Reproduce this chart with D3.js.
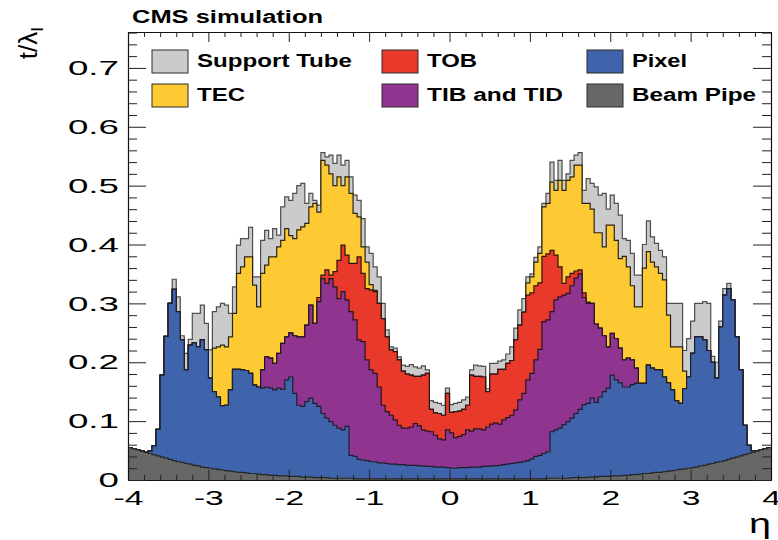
<!DOCTYPE html>
<html>
<head>
<meta charset="utf-8">
<script src="https://cdn.jsdelivr.net/npm/d3@7"></script>
<style>
  html, body { margin: 0; padding: 0; background: #ffffff; }
  svg { display: block; }
  text { font-family: "Liberation Sans", Arial, Helvetica, sans-serif; fill: #000; }
</style>
</head>
<body>
<svg id="chart" width="778" height="540"></svg>
<script>
// Material budget in nuclear interaction lengths versus pseudorapidity,
// stacked by tracker sub-detector. 160 bins of width 0.05 from -4 to 4.
const etaMin = -4, etaMax = 4, binWidth = 0.05;

const beamPipe = [
  .055,.053,.051,.049,.047,.045,.043,.041,.039,.037,
  .035,.033,.031,.030,.028,.027,.025,.024,.022,.021,
  .020,.019,.018,.017,.016,.015,.014,.013,.013,.012,
  .011,.011,.010,.009,.009,.008,.008,.007,.007,.007,
  .006,.006,.006,.005,.005,.005,.004,.004,.004,.004,
  .003,.003,.003,.003,.003,.003,.002,.002,.002,.002,
  .002,.002,.002,.002,.002,.002,.002,.002,.002,.002,
  .002,.002,.002,.002,.002,.002,.002,.002,.002,.002,
  .002,.002,.002,.002,.002,.002,.002,.002,.002,.002,
  .002,.002,.002,.002,.002,.002,.002,.002,.002,.002,
  .002,.002,.002,.002,.003,.003,.003,.003,.003,.003,
  .004,.004,.004,.004,.005,.005,.005,.006,.006,.006,
  .007,.007,.007,.008,.008,.009,.009,.010,.011,.011,
  .012,.013,.013,.014,.015,.016,.017,.018,.019,.020,
  .021,.022,.024,.025,.027,.028,.030,.031,.033,.035,
  .037,.039,.041,.043,.045,.047,.049,.051,.053,.055
];

const pixel = [
  0,0,0,0,0,.004,.015,.045,.139,.207,
  .265,.291,.255,.208,.159,.202,.208,.202,.216,.200,
  .153,.131,.123,.109,.111,.138,.174,.175,.174,.174,
  .170,.150,.148,.147,.149,.148,.145,.149,.147,.163,
  .169,.141,.121,.120,.128,.134,.126,.121,.109,.101,
  .096,.090,.085,.082,.088,.039,.038,.033,.032,.031,
  .029,.029,.027,.027,.026,.025,.025,.024,.024,.023,
  .023,.023,.022,.022,.021,.021,.020,.020,.020,.019,
  .018,.018,.019,.019,.019,.020,.020,.020,.021,.021,
  .022,.022,.023,.024,.025,.026,.027,.028,.029,.031,
  .034,.038,.040,.043,.045,.079,.082,.085,.091,.096,
  .101,.109,.116,.124,.125,.134,.127,.135,.144,.150,
  .171,.163,.158,.150,.150,.153,.155,.154,.153,.184,
  .178,.174,.174,.161,.150,.137,.118,.112,.136,.155,
  .194,.221,.219,.213,.193,.172,.143,.229,.281,.290,
  .269,.204,.146,.050,.014,.003,0,0,0,0
];

const tibTid = [
  0,0,0,0,0,0,0,0,0,0,
  0,0,0,0,0,0,0,0,0,0,
  0,0,0,0,0,0,0,0,0,0,
  0,0,0,.031,.051,.051,.045,.059,.078,.073,
  .075,.098,.116,.118,.130,.158,.136,.178,.229,.229,
  .243,.235,.220,.235,.215,.244,.232,.203,.201,.171,
  .156,.150,.129,.098,.088,.083,.075,.067,.062,.063,
  .065,.071,.068,.061,.060,.059,.054,.048,.046,.064,
  .060,.052,.053,.056,.064,.061,.065,.065,.062,.067,
  .071,.073,.070,.076,.079,.082,.090,.106,.116,.137,
  .145,.164,.180,.224,.224,.204,.221,.223,.220,.218,
  .225,.230,.230,.182,.170,.161,.133,.117,.095,.070,
  .071,.070,.059,.046,.049,.042,.026,0,0,0,
  0,0,0,0,0,0,0,0,0,0,
  0,0,0,0,0,0,0,0,0,0,
  0,0,0,0,0,0,0,0,0,0
];

const tob = [
  0,0,0,0,0,0,0,0,0,0,
  0,0,0,0,0,0,0,0,0,0,
  0,0,0,0,0,0,0,0,0,0,
  0,0,0,0,0,0,0,0,0,0,
  0,0,0,0,0,0,0,.007,.006,.023,
  .006,.026,.065,.079,.076,.082,.096,.141,.116,.121,
  .136,.139,.142,.147,.127,.111,.116,.111,.097,.092,
  .088,.080,.084,.093,.098,.038,.038,.043,.042,.062,
  .035,.044,.043,.043,.042,.095,.089,.089,.090,.060,
  .085,.083,.093,.086,.092,.093,.119,.127,.138,.144,
  .137,.126,.113,.111,.112,.104,.076,.051,.020,.028,
  .021,.012,.007,.008,.002,0,0,0,0,0,
  0,0,0,0,0,0,0,0,0,0,
  0,0,0,0,0,0,0,0,0,0,
  0,0,0,0,0,0,0,0,0,0,
  0,0,0,0,0,0,0,0,0,0
];

const tec = [
  0,0,0,0,0,0,0,0,0,0,
  0,0,0,0,0,0,0,0,0,0,
  0,.074,.085,.103,.099,.090,.095,.163,.175,.193,
  .198,.170,.136,.164,.156,.172,.181,.181,.175,.184,
  .165,.165,.182,.187,.173,.167,.204,.145,.195,.178,
  .172,.146,.142,.101,.133,.119,.085,.068,.045,.045,
  .009,.002,0,0,0,0,0,0,0,0,
  0,0,0,0,0,0,0,0,0,0,
  0,0,0,0,0,0,0,0,0,0,
  0,0,0,0,0,0,0,0,0,.021,
  .027,.040,.050,.084,.086,.116,.110,.147,.158,.164,
  .164,.180,.178,.152,.168,.160,.155,.162,.151,.207,
  .184,.167,.152,.176,.155,.126,.104,.130,.196,.193,
  .180,.175,.164,.165,.115,.073,.091,.096,.030,0,
  0,0,0,0,0,0,0,0,0,0,
  0,0,0,0,0,0,0,0,0,0
];

const supportTube = [
  0,0,0,0,0,0,0,0,0,0,
  0,.017,.025,.007,.028,.010,.050,.057,.059,.045,
  .048,.062,.068,.071,.071,.040,.045,.048,.048,.031,
  .050,.014,.051,.056,.059,.031,.048,.020,.057,.054,
  .060,.077,.075,.074,.034,.023,.005,.012,.013,.014,
  .032,.038,.037,.035,.028,.028,.031,.028,.048,.026,
  .053,.040,.045,.026,.012,.005,.006,.005,.010,.013,
  .018,.016,.014,.016,.006,.015,.018,.017,.017,.009,
  .013,.014,.015,.016,.014,.009,.019,.018,.018,.005,
  .018,.018,.014,.016,.016,.023,.020,.026,.023,.010,
  .005,.008,.011,.006,.017,.034,.017,.034,.017,.011,
  .028,.017,.021,.022,.042,.044,.078,.064,.091,.027,
  .051,.063,.074,.030,.045,.055,.054,.054,.040,.052,
  .043,.040,.039,.039,.020,.074,.074,.074,.035,.065,
  .055,.057,.057,.065,.080,.010,.027,.010,.011,.009,
  0,0,0,0,0,0,0,0,0,0
];

// Stack order (bottom to top), legend text and colours
const layerKeys   = ["beamPipe", "pixel", "tibTid", "tob", "tec", "supportTube"];
const layerLabels = ["Beam Pipe", "Pixel", "TIB and TID", "TOB", "TEC", "Support Tube"];
const layerColors = ["#676866", "#3f64ab", "#8f3590", "#e8392b", "#fdca33", "#cbcbcb"];
const layerLines  = ["#262626", "#1c1f2c", "#241424", "#2a1512", "#2a2410", "#4d4d4d"];

// Legend layout: three columns of two rows
const legendOrder = ["supportTube", "tec", "tob", "tibTid", "pixel", "beamPipe"];

const xMajorTicks = [-4, -3, -2, -1, 0, 1, 2, 3, 4];
const yMajorTicks = [0, 0.1, 0.2, 0.3, 0.4, 0.5, 0.6, 0.7];
const yMax = 0.761;

const svg = d3.select("#chart");
const plotLeft = 128, plotRight = 771, plotTop = 32, plotBottom = 480;

const x = d3.scaleLinear().domain([etaMin, etaMax]).range([plotLeft, plotRight]);
const y = d3.scaleLinear().domain([0, yMax]).range([plotBottom, plotTop]);

const seriesByKey = { beamPipe, pixel, tibTid, tob, tec, supportTube };
const nBins = beamPipe.length;
const rows = d3.range(nBins).map(i => {
  const r = {};
  layerKeys.forEach(k => { r[k] = seriesByKey[k][i]; });
  return r;
});
const stacked = d3.stack().keys(layerKeys)(rows);

svg.append("clipPath").attr("id", "plotArea")
  .append("rect")
  .attr("x", plotLeft).attr("y", plotTop)
  .attr("width", plotRight - plotLeft).attr("height", plotBottom - plotTop);

const plot = svg.append("g").attr("clip-path", "url(#plotArea)");

// Step outline of a cumulative series
const stepPoints = s => s.flatMap((d, i) => {
  const lo = etaMin + i * binWidth;
  return [{ e: lo, v: d[1] }, { e: lo + binWidth, v: d[1] }];
});
const area = d3.area().x(p => x(p.e)).y0(y(0)).y1(p => y(p.v));
const line = d3.line().x(p => x(p.e)).y(p => y(p.v));

// Cumulative histograms drawn from the total downwards, each filled and outlined
stacked.slice().reverse().forEach(s => {
  const idx = layerKeys.indexOf(s.key);
  const pts = stepPoints(s);
  plot.append("path")
    .attr("d", area(pts))
    .attr("fill", layerColors[idx]);
  plot.append("path")
    .attr("d", line(pts))
    .attr("fill", "none")
    .attr("stroke", layerLines[idx])
    .attr("stroke-width", 1.2)
    .attr("stroke-linejoin", "miter");
});

// Axes with ROOT-style inward ticks on all four sides
const xMinorTicks = d3.range(-40, 41, 2).map(v => v / 10).filter(v => !Number.isInteger(v));
const yMinorTicks = d3.range(0, 77, 2).map(v => v / 100).filter(v => Math.round(v * 100) % 10 !== 0);

const xLabelStretch = 1.6, yLabelStretch = 1.75;
function styleAxis(g) {
  g.select(".domain").attr("stroke", "#111").attr("stroke-width", 1.1);
  g.selectAll(".tick line").attr("stroke", "#222").attr("stroke-width", 1);
}

const fmt = d => String(d);

// bottom
const gBottom = svg.append("g").attr("transform", `translate(0,${plotBottom})`)
  .call(d3.axisBottom(x).tickValues(xMajorTicks).tickSize(-10).tickSizeOuter(0).tickPadding(10).tickFormat(fmt));
gBottom.selectAll(".tick text")
  .attr("font-size", 21)
  .attr("font-family", "Liberation Sans, Arial, sans-serif")
  .attr("transform", `scale(${xLabelStretch},1)`);
styleAxis(gBottom);
const gBottomMinor = svg.append("g").attr("transform", `translate(0,${plotBottom})`)
  .call(d3.axisBottom(x).tickValues(xMinorTicks).tickSize(-5).tickSizeOuter(0).tickFormat(""));
styleAxis(gBottomMinor);

// top
const gTop = svg.append("g").attr("transform", `translate(0,${plotTop})`)
  .call(d3.axisTop(x).tickValues(xMajorTicks).tickSize(-10).tickSizeOuter(0).tickFormat(""));
styleAxis(gTop);
const gTopMinor = svg.append("g").attr("transform", `translate(0,${plotTop})`)
  .call(d3.axisTop(x).tickValues(xMinorTicks).tickSize(-5).tickSizeOuter(0).tickFormat(""));
styleAxis(gTopMinor);

// left
const gLeft = svg.append("g").attr("transform", `translate(${plotLeft},0)`)
  .call(d3.axisLeft(y).tickValues(yMajorTicks).tickSize(-18).tickSizeOuter(0).tickPadding(8).tickFormat(fmt));
gLeft.selectAll(".tick text")
  .attr("font-size", 21)
  .attr("font-family", "Liberation Sans, Arial, sans-serif")
  .attr("x", -9 / yLabelStretch)
  .attr("transform", `scale(${yLabelStretch},1)`);
styleAxis(gLeft);
const gLeftMinor = svg.append("g").attr("transform", `translate(${plotLeft},0)`)
  .call(d3.axisLeft(y).tickValues(yMinorTicks).tickSize(-9).tickSizeOuter(0).tickFormat(""));
styleAxis(gLeftMinor);

// right
const gRight = svg.append("g").attr("transform", `translate(${plotRight},0)`)
  .call(d3.axisRight(y).tickValues(yMajorTicks).tickSize(-18).tickSizeOuter(0).tickFormat(""));
styleAxis(gRight);
const gRightMinor = svg.append("g").attr("transform", `translate(${plotRight},0)`)
  .call(d3.axisRight(y).tickValues(yMinorTicks).tickSize(-9).tickSizeOuter(0).tickFormat(""));
styleAxis(gRightMinor);

// Axis titles
svg.append("text")
  .attr("x", plotRight).attr("y", 533)
  .attr("text-anchor", "end")
  .attr("font-size", 27)
  .attr("textLength", 22).attr("lengthAdjust", "spacingAndGlyphs")
  .text("η");

const yTitle = svg.append("text")
  .attr("transform", "translate(37,27) rotate(-90)")
  .attr("text-anchor", "end")
  .attr("font-size", 26);
yTitle.append("tspan").text("t/λ");
yTitle.append("tspan").attr("font-size", 17).attr("dy", 6).text("I");

// Header
svg.append("text")
  .attr("x", 132).attr("y", 23)
  .attr("font-size", 18).attr("font-weight", "bold")
  .attr("textLength", 191).attr("lengthAdjust", "spacingAndGlyphs")
  .text("CMS simulation");

// Legend
const legendPos = {
  supportTube: { bx: 152, by: 50, tw: 155 },
  tec:         { bx: 152, by: 84, tw: 48 },
  tob:         { bx: 382, by: 50, tw: 50 },
  tibTid:      { bx: 382, by: 84, tw: 136 },
  pixel:       { bx: 587, by: 50, tw: 55 },
  beamPipe:    { bx: 587, by: 84, tw: 124 }
};
const legend = svg.append("g");
legendOrder.forEach(k => {
  const idx = layerKeys.indexOf(k);
  const p = legendPos[k];
  legend.append("rect")
    .attr("x", p.bx).attr("y", p.by)
    .attr("width", 36).attr("height", 23)
    .attr("fill", layerColors[idx])
    .attr("stroke", "#2b2b2b").attr("stroke-width", 1);
  legend.append("text")
    .attr("x", p.bx + 45).attr("y", p.by + 16.5)
    .attr("font-size", 18).attr("font-weight", "bold")
    .attr("textLength", p.tw).attr("lengthAdjust", "spacingAndGlyphs")
    .text(layerLabels[idx]);
});
</script>
</body>
</html>
